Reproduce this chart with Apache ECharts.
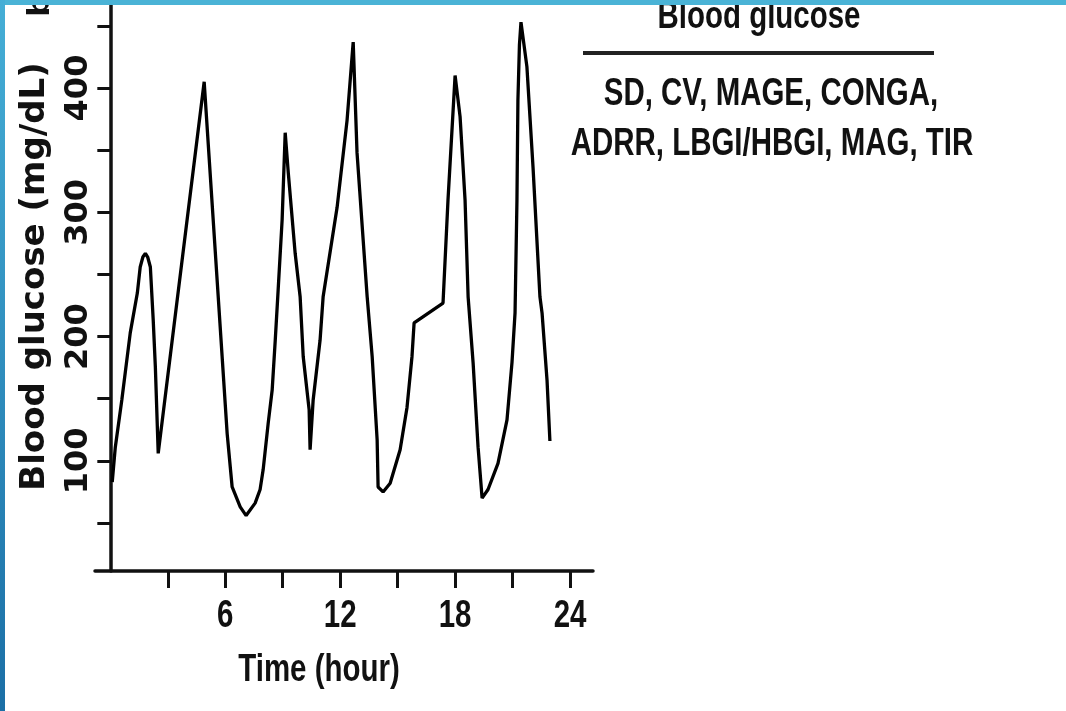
<!DOCTYPE html>
<html>
<head>
<meta charset="utf-8">
<script src="https://cdn.jsdelivr.net/npm/echarts@6/dist/echarts.min.js"></script>
<style>
html, body { margin: 0; padding: 0; background: #fff; }
#chart { width: 1066px; height: 711px; }
</style>
</head>
<body>
<div id="chart"></div>
<script>
// time of day (hour) and blood glucose (mg/dL)
var hours = [0.1, 0.26, 0.6, 1.04, 1.41, 1.56, 1.7, 1.83, 1.95, 2.09, 2.24, 2.35, 2.5,
    4.9, 6.1, 6.36, 6.78, 7.09, 7.56, 7.82, 7.98, 8.24, 8.45, 8.61, 8.76, 8.97, 9.13,
    9.29, 9.65, 9.91, 10.07, 10.38, 10.43, 10.59, 10.95, 11.11, 11.84, 12.36, 12.68,
    12.88, 13.41, 13.67, 13.93, 13.98, 14.24, 14.61, 15.13, 15.49, 15.75, 15.86,
    17.37, 17.63, 18.0, 18.26, 18.52, 18.68, 18.94, 19.2, 19.41, 19.72, 20.24, 20.71,
    20.97, 21.13, 21.23, 21.28, 21.36, 21.44, 21.75, 22.07, 22.43, 22.54, 22.8, 22.95];
var glucose = [83, 111, 149, 203, 235, 256, 264, 267, 264, 256, 213, 176, 106,
    405, 122, 79, 63, 56, 66, 77, 93, 130, 157, 197, 237, 294, 364,
    332, 267, 232, 184, 141, 109, 149, 197, 232, 304, 374, 437,
    348, 232, 184, 117, 79, 75, 82, 109, 143, 184, 211,
    227, 310, 410, 377, 310, 232, 179, 111, 70, 77, 98, 133,
    179, 219, 310, 390, 435, 453, 417, 336, 232, 219, 165, 116];

var xTicks = [3, 6, 9, 12, 15, 18, 21, 24];
var xLabels = [6, 12, 18, 24];
var yTicks = [50, 100, 150, 200, 250, 300, 350, 400, 450];
var yLabels = [100, 200, 300, 400];
var yMin = 11.4, yMax = 470.8;

var boxTitle = 'Blood glucose';
var metrics = ['SD, CV, MAGE, CONGA,', 'ADRR, LBGI/HBGI, MAG, TIR'];

// the figure's type is a condensed grotesque, faked with a horizontal squeeze
var sans = "'Liberation Sans', Arial, sans-serif";
var squeeze = 0.775;
var wide = "'DejaVu Sans', 'Liberation Sans', sans-serif";

var points = hours.map(function (h, i) { return [h, glucose[i]]; });

function narrowText(x, y, text) {
    return {
        type: 'text', x: x, y: y, scaleX: squeeze,
        style: { text: text, fontFamily: sans, fontWeight: 'bold', fontSize: 38, fill: '#111', align: 'center', verticalAlign: 'middle' }
    };
}

var option = {
    animation: false,
    backgroundColor: '#fff',
    grid: {
        left: 95,
        right: 473,
        top: 0,
        bottom: 140,
        outerBoundsMode: 'none'
    },
    xAxis: {
        type: 'value',
        min: -0.8,
        max: 25.2,
        axisLine: { onZero: false, lineStyle: { color: '#111', width: 3.5 } },
        axisTick: { customValues: xTicks, length: 17, lineStyle: { color: '#111', width: 3 } },
        axisLabel: { show: false },
        splitLine: { show: false }
    },
    yAxis: {
        type: 'value',
        min: yMin,
        max: yMax,
        name: 'Blood glucose (mg/dL)',
        nameLocation: 'middle',
        nameRotate: 90,
        nameGap: 43,
        nameTextStyle: {
            fontFamily: wide,
            fontWeight: 'bold',
            fontSize: 34,
            color: '#111',
            padding: [0, 0, 0, 18]
        },
        axisLine: { onZero: true, lineStyle: { color: '#111', width: 3.5 } },
        axisTick: { customValues: yTicks, length: 13, lineStyle: { color: '#111', width: 3 } },
        axisLabel: {
            customValues: yLabels,
            rotate: 90,
            margin: 0,
            fontFamily: wide,
            fontWeight: 'bold',
            fontSize: 32,
            color: '#111'
        },
        splitLine: { show: false }
    },
    series: [{
        type: 'line',
        data: points,
        showSymbol: false,
        smooth: false,
        lineStyle: { color: '#000', width: 3.3 }
    }, {
        // hour labels under the axis, placed by the x scale
        type: 'custom',
        silent: true,
        clip: false,
        data: xLabels.map(function (v) { return [v, yMin]; }),
        renderItem: function (params, api) {
            var p = api.coord([api.value(0), api.value(1)]);
            return {
                type: 'text', x: p[0], y: p[1] + 46, scaleX: squeeze,
                style: { text: String(api.value(0)), fontFamily: sans, fontWeight: 'bold', fontSize: 38, fill: '#111', align: 'center', verticalAlign: 'middle' }
            };
        }
    }],
    graphic: [
        // panel letter, mostly hidden under the frame
        {
            type: 'text', x: 41, y: 6, rotation: Math.PI / 2,
            style: { text: 'b', fontFamily: wide, fontWeight: 'bold', fontSize: 30, fill: '#111', align: 'center', verticalAlign: 'middle' }
        },
        narrowText(319, 671, 'Time (hour)'),
        narrowText(759, 18, boxTitle),
        {
            type: 'line', shape: { x1: 583, y1: 53, x2: 934, y2: 53 },
            style: { stroke: '#222', lineWidth: 4 }
        },
        narrowText(771, 95, metrics[0]),
        narrowText(772, 145, metrics[1]),
        // slide frame
        {
            type: 'rect', z: 100, shape: { x: 0, y: 0, width: 1066, height: 5 },
            style: { fill: '#4ab3d6' }
        },
        {
            type: 'rect', z: 100, shape: { x: 0, y: 0, width: 5, height: 711 },
            style: {
                fill: new echarts.graphic.LinearGradient(0, 0, 0, 1, [
                    { offset: 0, color: '#45aed6' },
                    { offset: 1, color: '#1b6fa6' }
                ])
            }
        }
    ]
};

var myChart = echarts.init(document.getElementById('chart'));
myChart.setOption(option);
</script>
</body>
</html>
